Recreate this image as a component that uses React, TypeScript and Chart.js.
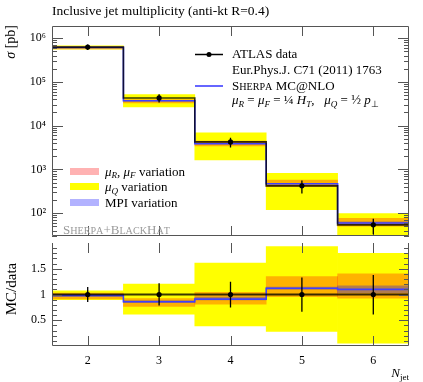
import React, { useEffect, useRef } from 'react';
import { Chart, registerables } from 'chart.js';
Chart.register(...registerables);

const FONT = '"Liberation Serif", "Times New Roman", serif';

// ---- data ----
const binEdges = [1.5, 2.5, 3.5, 4.5, 5.5, 6.5];
const nJet = [2, 3, 4, 5, 6];
const atlasXsec = [6.25e5, 4.3e4, 4.25e3, 420, 54];
const atlasErrUp = [0.145, 0.22, 0.25, 0.33, 0.38];
const atlasErrDown = [0.145, 0.215, 0.25, 0.335, 0.39];
const mcOverData = [0.98, 0.86, 0.91, 1.12, 1.1];
const muQLow = [0.9, 0.62, 0.39, 0.285, 0.056];
const muQHigh = [1.07, 1.2, 1.61, 1.93, 1.8];
const muRFLow = [0.915, 0.77, 0.81, 0.96, 0.93];
const muRFHigh = [1.03, 0.92, 1.04, 1.35, 1.4];
const mpiLow = [0.96, 0.84, 0.895, 1.1, 1.03];
const mpiHigh = [1.0, 0.88, 0.95, 1.145, 1.17];
const logTicks = [1e2, 1e3, 1e4, 1e5, 1e6];
const ratioTicks = [0.5, 1, 1.5];
const xTicks = [2, 3, 4, 5, 6];

const YELLOW = '#ffff00';
const PINK = 'rgba(255,0,0,0.3)';
const MPI = 'rgba(0,0,255,0.3)';
const BLUE = '#4040ff';
const DARK = 'rgba(0,0,0,0.78)';
const FRAME = '#555';

const SUP: Record<string, string> = { '0': '⁰', '1': '¹', '2': '²', '3': '³', '4': '⁴', '5': '⁵', '6': '⁶', '7': '⁷', '8': '⁸', '9': '⁹' };

type Seg = { t: string; it?: boolean; sub?: boolean; sc?: number };

function smallCaps(text: string, scale = 0.78): Seg[] {
  const out: Seg[] = [];
  for (const ch of text) {
    if (ch >= 'a' && ch <= 'z') out.push({ t: ch.toUpperCase(), sc: scale });
    else out.push({ t: ch });
  }
  return out;
}

function segWidth(ctx: CanvasRenderingContext2D, segs: Seg[], size: number) {
  let w = 0;
  for (const s of segs) {
    const fs = s.sub ? size * 0.7 : size * (s.sc || 1);
    ctx.font = `${s.it ? 'italic ' : ''}${fs}px ${FONT}`;
    w += ctx.measureText(s.t).width;
  }
  return w;
}

function drawSegs(ctx: CanvasRenderingContext2D, segs: Seg[], x: number, y: number, size: number, color: string) {
  let cx = x;
  ctx.fillStyle = color;
  ctx.textAlign = 'left';
  ctx.textBaseline = 'alphabetic';
  for (const s of segs) {
    const fs = s.sub ? size * 0.7 : size * (s.sc || 1);
    ctx.font = `${s.it ? 'italic ' : ''}${fs}px ${FONT}`;
    const dy = s.sub ? size * 0.22 : 0;
    ctx.fillText(s.t, cx, y + dy);
    cx += ctx.measureText(s.t).width;
  }
  return cx;
}

function stepPoints(vals: number[]) {
  const pts: { x: number; y: number }[] = [];
  vals.forEach((v, i) => {
    pts.push({ x: binEdges[i], y: v });
    pts.push({ x: binEdges[i + 1], y: v });
  });
  return pts;
}

function bandData(lo: number[], hi: number[], scale: number[]) {
  return nJet.map((n, i) => ({ x: n, y: [lo[i] * scale[i], hi[i] * scale[i]] }));
}

function bandDataset(label: string, lo: number[], hi: number[], scale: number[], color: string, order: number, yID: string) {
  return {
    type: 'bar' as const,
    label,
    data: bandData(lo, hi, scale),
    backgroundColor: color,
    borderWidth: 0,
    barPercentage: 1,
    categoryPercentage: 1,
    grouped: false,
    order,
    yAxisID: yID,
  };
}

function framePlugin(kind: 'main' | 'ratio') {
  return {
    id: 'frame_' + kind,
    afterDatasetsDraw(chart: any) {
      const { ctx, chartArea: a, scales } = chart;
      const x = scales.x, y = scales.y;
      ctx.save();
      ctx.strokeStyle = FRAME;
      ctx.lineWidth = 1;
      ctx.beginPath();
      for (const t of xTicks) {
        const px = Math.round(x.getPixelForValue(t)) + 0.5;
        ctx.moveTo(px, a.top);
        ctx.lineTo(px, a.top + 10);
        ctx.moveTo(px, a.bottom);
        ctx.lineTo(px, a.bottom - 10);
      }
      if (kind === 'main') {
        for (let d = 1; d <= 7; d++) {
          for (let m = 1; m <= 9; m++) {
            const v = m * Math.pow(10, d);
            if (v < y.min || v > y.max) continue;
            const py = Math.round(y.getPixelForValue(v)) + 0.5;
            const len = m === 1 ? 11 : 5;
            ctx.moveTo(a.left, py); ctx.lineTo(a.left + len, py);
            ctx.moveTo(a.right, py); ctx.lineTo(a.right - len, py);
          }
        }
      } else {
        for (let k = 1; k < 20; k++) {
          const v = k / 10;
          const py = Math.round(y.getPixelForValue(v)) + 0.5;
          const len = k % 5 === 0 ? 10 : 5;
          ctx.moveTo(a.left, py); ctx.lineTo(a.left + len, py);
          ctx.moveTo(a.right, py); ctx.lineTo(a.right - len, py);
        }
      }
      ctx.stroke();
      ctx.beginPath();
      const L = Math.round(a.left) + 0.5, R = Math.round(a.right) - 0.5;
      const T = Math.round(a.top) + 0.5, B = Math.round(a.bottom) - 0.5;
      if (kind === 'main') {
        ctx.rect(L, T, R - L, B - T);
      } else {
        ctx.moveTo(L, a.top); ctx.lineTo(L, B); ctx.lineTo(R, B); ctx.lineTo(R, a.top);
      }
      ctx.stroke();
      // error bars
      const ratio = kind === 'ratio';
      ctx.strokeStyle = '#000';
      ctx.lineWidth = 1.3;
      ctx.beginPath();
      nJet.forEach((n, i) => {
        const base = ratio ? 1 : atlasXsec[i];
        const px = x.getPixelForValue(n);
        ctx.moveTo(px, y.getPixelForValue(base * (1 + atlasErrUp[i])));
        ctx.lineTo(px, y.getPixelForValue(base * (1 - atlasErrDown[i])));
      });
      ctx.stroke();
      ctx.restore();
    },
  };
}

const mainTextPlugin = {
  id: 'mainText',
  afterDraw(chart: any) {
    const ctx: CanvasRenderingContext2D = chart.ctx;
    ctx.save();
    // title
    drawSegs(ctx, [{ t: 'Inclusive jet multiplicity (anti-kt R=0.4)' }], 52, 15, 13.5, '#000');
    // y label
    ctx.save();
    const ylab: Seg[] = [{ t: 'σ', it: true }, { t: ' [pb]' }];
    const w = segWidth(ctx, ylab, 14);
    ctx.translate(15, 25 + w);
    ctx.rotate(-Math.PI / 2);
    drawSegs(ctx, ylab, 0, 0, 14, '#000');
    ctx.restore();
    // right legend
    ctx.strokeStyle = '#000';
    ctx.lineWidth = 1.5;
    ctx.beginPath(); ctx.moveTo(195, 54.5); ctx.lineTo(223, 54.5); ctx.stroke();
    ctx.fillStyle = '#000';
    ctx.beginPath(); ctx.arc(209, 54.5, 2.5, 0, Math.PI * 2); ctx.fill();
    drawSegs(ctx, [{ t: 'ATLAS data' }], 232, 58, 13, '#000');
    drawSegs(ctx, [{ t: 'Eur.Phys.J. C71 (2011) 1763' }], 232, 74, 13, '#000');
    ctx.strokeStyle = BLUE;
    ctx.lineWidth = 1.6;
    ctx.beginPath(); ctx.moveTo(195, 86); ctx.lineTo(223, 86); ctx.stroke();
    drawSegs(ctx, [...smallCaps('Sherpa'), { t: ' MC@NLO' }], 232, 89.5, 13, '#000');
    drawSegs(ctx, [
      { t: 'μ', it: true }, { t: 'R', it: true, sub: true }, { t: ' = ' },
      { t: 'μ', it: true }, { t: 'F', it: true, sub: true }, { t: ' = ' },
      { t: '¼' }, { t: ' ' }, { t: 'H', it: true }, { t: 'T', it: true, sub: true }, { t: ',   ' },
      { t: 'μ', it: true }, { t: 'Q', it: true, sub: true }, { t: ' = ' },
      { t: '½' }, { t: ' ' }, { t: 'p', it: true }, { t: '⊥', sub: true },
    ], 232, 104, 13, '#000');
    // left legend
    ctx.fillStyle = PINK; ctx.fillRect(70, 168, 29, 7);
    ctx.fillStyle = YELLOW; ctx.fillRect(70, 183, 29, 7);
    ctx.fillStyle = MPI; ctx.fillRect(70, 199, 29, 7);
    drawSegs(ctx, [{ t: 'μ', it: true }, { t: 'R', it: true, sub: true }, { t: ', ' }, { t: 'μ', it: true }, { t: 'F', it: true, sub: true }, { t: ' variation' }], 105, 175.5, 13, '#000');
    drawSegs(ctx, [{ t: 'μ', it: true }, { t: 'Q', it: true, sub: true }, { t: ' variation' }], 105, 191, 13, '#000');
    drawSegs(ctx, [{ t: 'MPI variation' }], 105, 206.5, 13, '#000');
    drawSegs(ctx, smallCaps('Sherpa+BlackHat'), 63, 234, 13, '#9a9a9a');
    ctx.restore();
  },
};

const ratioTextPlugin = {
  id: 'ratioText',
  afterDraw(chart: any) {
    const ctx: CanvasRenderingContext2D = chart.ctx;
    ctx.save();
    const lab: Seg[] = [{ t: 'MC/data' }];
    const w = segWidth(ctx, lab, 15);
    ctx.translate(16, 50 + w / 2);
    ctx.rotate(-Math.PI / 2);
    drawSegs(ctx, lab, 0, 0, 15, '#000');
    ctx.restore();
    ctx.save();
    const nl: Seg[] = [{ t: 'N', it: true }, { t: 'jet', sub: true }];
    const wn = segWidth(ctx, nl, 13);
    drawSegs(ctx, nl, 409 - wn, 138, 13, '#000');
    ctx.restore();
  },
};

const mcXsec = atlasXsec.map((d, i) => d * mcOverData[i]);
const ones = atlasXsec.map(() => 1);

function noPad(s: any) {
  s.paddingTop = 0;
  s.paddingBottom = 0;
  s.paddingLeft = 0;
  s.paddingRight = 0;
}

export default function App() {
  const mainRef = useRef<HTMLCanvasElement>(null);
  const ratioRef = useRef<HTMLCanvasElement>(null);

  useEffect(() => {
    Chart.defaults.font.family = FONT;
    const xScale = (display: boolean) => ({
      type: 'linear' as const,
      min: 1.5,
      max: 6.5,
      offset: false,
      display,
      afterBuildTicks: (s: any) => { s.ticks = xTicks.map((v) => ({ value: v })); },
      afterFit: (s: any) => { if (display) s.height = 36; noPad(s); },
      grid: { display: false, drawTicks: false },
      border: { display: false },
      ticks: { color: '#000', font: { size: 12, family: FONT }, padding: 8, maxRotation: 0, callback: (v: any) => String(v) },
    });

    const main = new Chart(mainRef.current!, {
      type: 'line',
      data: {
        datasets: [
          {
            type: 'line', label: 'ATLAS data', data: nJet.map((n, i) => ({ x: n, y: atlasXsec[i] })),
            showLine: false, pointRadius: 2.6, pointBackgroundColor: '#000', pointBorderWidth: 0, order: 0, yAxisID: 'y',
          },
          {
            type: 'line', label: 'data hist', data: stepPoints(atlasXsec), borderColor: DARK, borderWidth: 1.6,
            pointRadius: 0, tension: 0, fill: false, order: 1, yAxisID: 'y',
          },
          {
            type: 'line', label: 'Sherpa MC@NLO', data: stepPoints(mcXsec), borderColor: BLUE, borderWidth: 1.6,
            pointRadius: 0, tension: 0, fill: false, order: 2, yAxisID: 'y',
          },
          bandDataset('MPI variation', mpiLow, mpiHigh, atlasXsec, MPI, 3, 'y'),
          bandDataset('muRF variation', muRFLow, muRFHigh, atlasXsec, PINK, 4, 'y'),
          bandDataset('muQ variation', muQLow, muQHigh, atlasXsec, YELLOW, 5, 'y'),
        ] as any,
      },
      options: {
        responsive: false,
        animation: false,
        devicePixelRatio: 1,
        layout: { padding: { left: 0, right: 14, top: 26, bottom: 1 } },
        plugins: { legend: { display: false }, tooltip: { enabled: false } },
        scales: {
          x: xScale(false) as any,
          y: {
            type: 'logarithmic',
            min: 30,
            max: 1.9e6,
            afterBuildTicks: (s: any) => { s.ticks = logTicks.map((v) => ({ value: v })); },
            afterFit: (s: any) => { s.width = 52; noPad(s); },
            grid: { display: false, drawTicks: false },
            border: { display: false },
            ticks: {
              color: '#000', font: { size: 12, family: FONT }, padding: 6,
              callback: (v: any) => '10' + String(Math.round(Math.log10(Number(v)))).split('').map((c) => SUP[c]).join(''),
            },
          },
        },
      },
      plugins: [framePlugin('main'), mainTextPlugin],
    });

    const ratio = new Chart(ratioRef.current!, {
      type: 'line',
      data: {
        datasets: [
          {
            type: 'line', label: 'ATLAS data', data: nJet.map((n) => ({ x: n, y: 1 })),
            showLine: false, pointRadius: 2.6, pointBackgroundColor: '#000', pointBorderWidth: 0, order: 0, yAxisID: 'y',
          },
          {
            type: 'line', label: 'data hist', data: stepPoints(ones), borderColor: DARK, borderWidth: 2,
            pointRadius: 0, tension: 0, fill: false, order: 1, yAxisID: 'y',
          },
          {
            type: 'line', label: 'Sherpa MC@NLO', data: stepPoints(mcOverData), borderColor: BLUE, borderWidth: 1.6,
            pointRadius: 0, tension: 0, fill: false, order: 2, yAxisID: 'y',
          },
          bandDataset('MPI variation', mpiLow, mpiHigh, ones, MPI, 3, 'y'),
          bandDataset('muRF variation', muRFLow, muRFHigh, ones, PINK, 4, 'y'),
          bandDataset('muQ variation', muQLow, muQHigh, ones, YELLOW, 5, 'y'),
        ] as any,
      },
      options: {
        responsive: false,
        animation: false,
        devicePixelRatio: 1,
        layout: { padding: { left: 0, right: 14, top: 0, bottom: 0 } },
        plugins: { legend: { display: false }, tooltip: { enabled: false } },
        scales: {
          x: xScale(true) as any,
          y: {
            type: 'linear',
            min: 0,
            max: 2,
            afterBuildTicks: (s: any) => { s.ticks = ratioTicks.map((v) => ({ value: v })); },
            afterFit: (s: any) => { s.width = 52; noPad(s); },
            grid: { display: false, drawTicks: false },
            border: { display: false },
            ticks: { color: '#000', font: { size: 12, family: FONT }, padding: 6, callback: (v: any) => String(v) },
          },
        },
      },
      plugins: [framePlugin('ratio'), ratioTextPlugin],
    });

    return () => {
      main.destroy();
      ratio.destroy();
    };
  }, []);

  return (
    <div style={{ position: 'absolute', left: 0, top: 0, width: 423, height: 382, background: '#fff' }}>
      <canvas ref={mainRef} width={423} height={240} style={{ position: 'absolute', left: 0, top: 0, width: 423, height: 240 }} />
      <canvas ref={ratioRef} width={423} height={143} style={{ position: 'absolute', left: 0, top: 239, width: 423, height: 143 }} />
    </div>
  );
}
